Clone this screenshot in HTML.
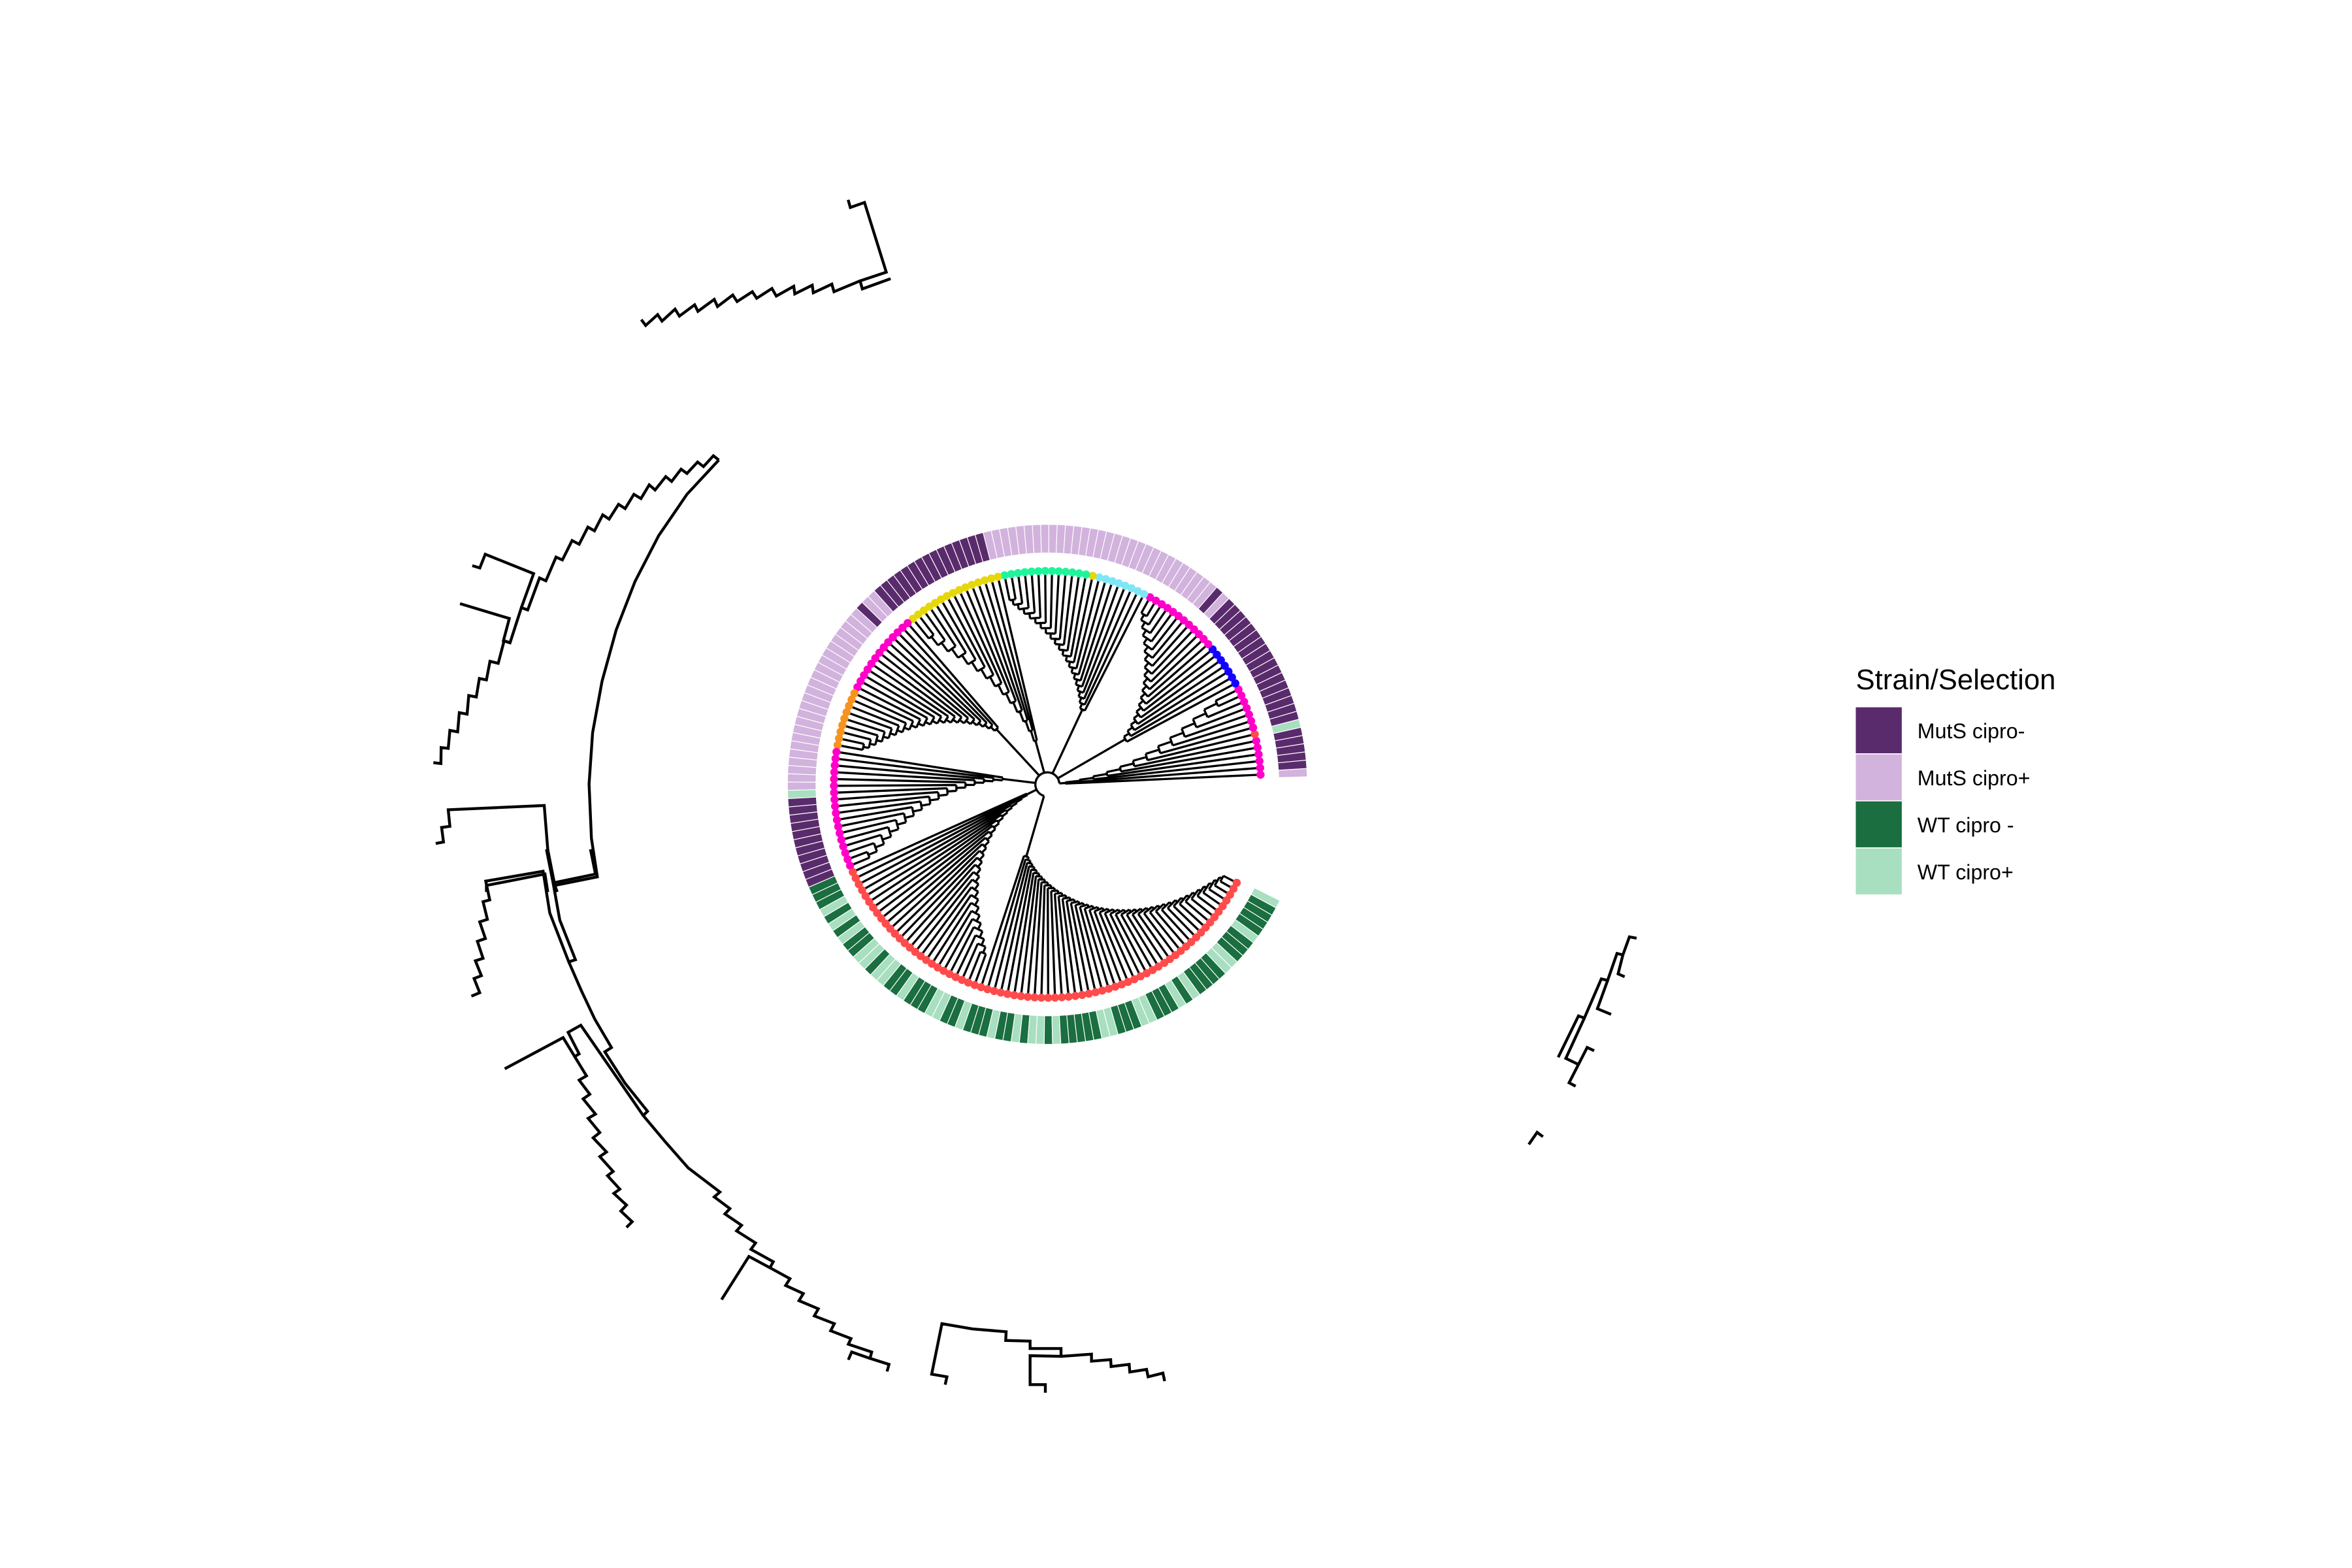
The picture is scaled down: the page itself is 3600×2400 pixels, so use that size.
<!DOCTYPE html>
<html><head><meta charset="utf-8"><title>Phylogeny – Strain/Selection</title>
<style>html,body{margin:0;padding:0;background:#fff}svg{display:block}</style></head>
<body>
<svg id="chart" xmlns="http://www.w3.org/2000/svg" width="3600" height="2400" viewBox="0 0 1565.2 1043.5">
<rect width="1565.2" height="1043.5" fill="#fff"/>
<g id="outer" fill="none" stroke="#000" stroke-width="1.9" stroke-linejoin="miter"></g>
<g id="tree" fill="none" stroke="#000" stroke-width="1.45"></g>
<g id="dots"></g>
<g id="ring"></g>
<g font-family="'Liberation Sans', Arial, sans-serif">
  <text x="1235" y="458.7" font-size="19" fill="#000">Strain/Selection</text>
  <rect x="1235" y="470.7" width="30.6" height="30.6" fill="#5a2b6c"/>
  <rect x="1235" y="502" width="30.6" height="30.6" fill="#d2b3dd"/>
  <rect x="1235" y="533.3" width="30.6" height="30.6" fill="#1a6e3f"/>
  <rect x="1235" y="564.6" width="30.6" height="30.6" fill="#a8dfc0"/>
  <text x="1276" y="491.3" font-size="14">MutS cipro-</text>
  <text x="1276" y="522.6" font-size="14">MutS cipro+</text>
  <text x="1276" y="553.9" font-size="14">WT cipro -</text>
  <text x="1276" y="585.2" font-size="14">WT cipro+</text>
</g>
</svg>
<script>
// ---- data ----
const stripCodes  = ['L','P','g','P','L','P','L','P','L','P','L','g','P',
  'G','g','G','g','G','g','G','g','G','g','G','g','G','g','G','g','G','g','G','g','G','g','G','g','G','g','G','g','G','g','G','g','G','g','G','g','G','g'];
const stripCounts = [1,5,1,17,1,1,30,15,2,1,24,1,11,
  3,1,1,1,1,1,2,2,1,2,2,1,3,2,2,1,3,1,2,1,1,2,1,1,5,2,3,2,3,1,1,1,4,2,3,1,4,1];
const dotColors = ['#ff00c8','#ff4b4b','#ff00c8','#1400ff','#ff00c8','#7fe6f5','#e6d70a','#1ef59b','#e6d70a','#ff00c8','#f7931e','#ff00c8','#ff4b4b'];
const dotCounts = [6,1,7,7,12,8,1,13,15,13,9,18,71];
const cladeStart = [0,14,33,55,70,92,110,136];
const cladeEnd   = [13,32,54,69,91,109,135,180];
const cladeInner = [12,60,55,30,50,30,15,50];
const cladeOuter = [125,130,125,125,125,128,120,132];
const strainColor = {P:'#5a2b6c', L:'#d2b3dd', G:'#1a6e3f', g:'#a8dfc0'};

const CX=697, CY=522, RT=142, A0=2.6, STEP=1.833, R1=154, R2=173, ROOTR=8;
const NS='http://www.w3.org/2000/svg';
function rad(a){return a*Math.PI/180;}
function pt(r,a){return [CX+r*Math.cos(rad(a)), CY-r*Math.sin(rad(a))];}
function tipAngle(i){return A0+i*STEP;}
function f(v){return v.toFixed(2);}
function arcD(r,a1,a2){
  if(a2<a1){const t=a1;a1=a2;a2=t;}
  const p1=pt(r,a1),p2=pt(r,a2);
  return 'M'+f(p1[0])+' '+f(p1[1])+'A'+r+' '+r+' 0 '+((a2-a1)>180?1:0)+' 0 '+f(p2[0])+' '+f(p2[1]);
}
function radD(r1,r2,a){const p1=pt(r1,a),p2=pt(r2,a);return 'M'+f(p1[0])+' '+f(p1[1])+'L'+f(p2[0])+' '+f(p2[1]);}
function expand(codes,counts){const out=[];codes.forEach((c,k)=>{for(let j=0;j<counts[k];j++)out.push(c);});return out;}

const strains=expand(stripCodes,stripCounts);
const tipCols=expand(dotColors,dotCounts);

// heatmap ring
const ring=document.getElementById('ring');
strains.forEach((s,i)=>{
  const a=tipAngle(i), h=STEP/2;
  const o1=pt(R2,a-h),o2=pt(R2,a+h),i2=pt(R1,a+h),i1=pt(R1,a-h);
  const p=document.createElementNS(NS,'path');
  p.setAttribute('d','M'+f(o1[0])+' '+f(o1[1])+'A'+R2+' '+R2+' 0 0 0 '+f(o2[0])+' '+f(o2[1])+'L'+f(i2[0])+' '+f(i2[1])+'A'+R1+' '+R1+' 0 0 1 '+f(i1[0])+' '+f(i1[1])+'Z');
  p.setAttribute('fill',strainColor[s]);
  p.setAttribute('stroke','#fff');
  p.setAttribute('stroke-width','0.5');
  
  
  ring.appendChild(p);
});

// tree
const tree=document.getElementById('tree');
let d='';
const bases=[];
cladeStart.forEach((s,c)=>{
  const e=cladeEnd[c], n=e-s+1, rin=cladeInner[c], rout=cladeOuter[c];
  const nr=[], na=[];
  for(let k=0;k<n-1;k++) nr.push(rin+(rout-rin)*k/Math.max(1,n-2));
  for(let k=n-2;k>=0;k--){
    const child = (k===n-2)? tipAngle(e) : na[k+1];
    na[k]=(tipAngle(s+k)+child)/2;
  }
  for(let k=0;k<n-1;k++){
    const child=(k===n-2)?tipAngle(e):na[k+1];
    const childR=(k===n-2)?RT:nr[k+1];
    d+=radD(nr[k],RT,tipAngle(s+k));
    d+=arcD(nr[k],tipAngle(s+k),child);
    d+=radD(nr[k],childR,child);
  }
  d+=radD(ROOTR,nr[0],na[0]);
  bases.push(na[0]);
});
d+=arcD(ROOTR,Math.min(...bases),Math.max(...bases));
const tp=document.createElementNS(NS,'path');
tp.setAttribute('d',d);


tree.appendChild(tp);

// tip points
const dots=document.getElementById('dots');
tipCols.forEach((c,i)=>{
  const p=pt(RT,tipAngle(i));
  const ci=document.createElementNS(NS,'circle');
  ci.setAttribute('cx',f(p[0]));ci.setAttribute('cy',f(p[1]));ci.setAttribute('r','2.7');
  ci.setAttribute('fill',c);
  
  
  dots.appendChild(ci);
});

// outer (large-scale) branch fragments, traced in local frames
const frames={
  z6:[413.0,121.7,0.1449,0.1449], z7:[260.9,295.7,0.157,0.19], z8:[282.6,565.2,0.222,0.2356],
  z9:[617.4,878.3,0.1449,0.1449], z10:[1017.4,617.4,0.1449,0.1449]};
const frags=[
 ['z6',[[1045,78],[1055,113],[1120,90],[1220,410],[1100,450],[1110,487],[1240,440]]],
 ['z6',[[1100,450],[980,500],[970,465],[885,505],[880,470],[800,510],[795,475],[715,520],[695,485],[625,530],[605,500],[535,545],[515,515],[445,568],[430,535],[355,590],[340,560],[270,612],[250,580],[190,635],[170,605],[115,655],[95,628]]],
 ['z7',[[1385,55],[1362,40],[1320,78],[1295,62],[1250,102],[1225,87],[1185,130],[1160,113],[1115,160],[1090,142],[1055,190],[1025,175],[988,225],[960,210],[920,262],[893,247],[858,303],[830,290],[793,350],[763,337],[722,405],[695,395],[652,478],[625,468],[575,580],[548,572],[500,695],[475,688],[450,767],[415,760],[400,825],[370,820],[357,885],[325,880],[318,945],[285,940],[278,1007],[245,1002],[238,1065],[208,1062],[207,1118],[175,1115]]],
 ['z7',[[1385,55],[1250,175],[1130,320],[1030,480],[950,650],[890,830],[850,1010],[835,1190],[845,1380],[870,1515],[690,1545],[700,1568]]],
 ['z7',[[340,425],[372,433],[395,385],[600,453],[548,572]]],
 ['z7',[[288,558],[497,610],[472,688],[500,695]]],
 ['z7',[[185,1398],[218,1393],[210,1342],[245,1338],[238,1280],[645,1265],[660,1420],[690,1545]]],
 ['z7',[[400,1568],[400,1545],[648,1505],[660,1568]]],
 ['z8',[[140,415],[165,405],[148,365],[170,357],[152,315],[175,308],[158,260],[182,252],[165,205],[188,198],[175,148],[195,143],[183,90],[355,62],[375,180],[432,318],[452,312],[405,200],[385,95]]],
 ['z8',[[365,0],[385,95],[512,70],[497,0]]],
 ['z8',[[432,318],[470,400],[510,480],[560,560],[540,572],[600,660],[668,740],[655,752],[720,825],[790,900],[885,968],[868,982],[915,1015],[900,1030],[950,1062],[935,1078],[992,1112],[978,1130],[1045,1165],[1035,1182],[1095,1213],[1082,1232],[1135,1255],[1122,1275],[1180,1298],[1168,1318],[1228,1340],[1217,1360],[1278,1382],[1270,1398],[1340,1420],[1335,1438],[1392,1455],[1386,1475]]],
 ['z8',[[1270,1442],[1280,1420],[1335,1438]]],
 ['z8',[[450,585],[463,578],[430,517],[468,497],[655,752]]],
 ['z8',[[240,620],[415,532],[485,640],[463,652],[495,692],[475,705],[512,748],[490,760],[525,800],[505,815],[545,855],[525,868],[565,910],[548,922],[585,960],[567,972],[605,1005],[588,1022],[622,1052],[605,1068]]],
 ['z8',[[890,1272],[972,1150],[1035,1182]]],
 ['z9',[[80,298],[88,262],[18,250],[65,18],[205,42],[360,55],[358,95],[470,98],[470,132],[612,132],[612,168],[470,165],[470,298],[540,298],[540,335]]],
 ['z9',[[612,168],[752,158],[752,190],[840,183],[842,215],[925,205],[928,240],[1005,228],[1012,262],[1080,245],[1088,282]]],
 ['z10',[[495,48],[462,42],[432,125],[405,118],[362,242],[333,235],[255,415],[228,405],[135,595]]],
 ['z10',[[432,125],[410,212],[440,225]]],
 ['z10',[[362,242],[315,372],[378,398]]],
 ['z10',[[255,415],[170,600],[228,628],[268,550],[300,565]]],
 ['z10',[[228,628],[185,712],[215,728]]],
 ['z10',[[0,995],[38,940],[65,960]]]
];
const outer=document.getElementById('outer');
frags.forEach(fr=>{
  const t=frames[fr[0]];
  const pts=fr[1].map(p=>f(t[0]+p[0]*t[2])+','+f(t[1]+p[1]*t[3])).join(' ');
  const pl=document.createElementNS(NS,'polyline');
  pl.setAttribute('points',pts);
  
  
  outer.appendChild(pl);
});
</script>
</body></html>
